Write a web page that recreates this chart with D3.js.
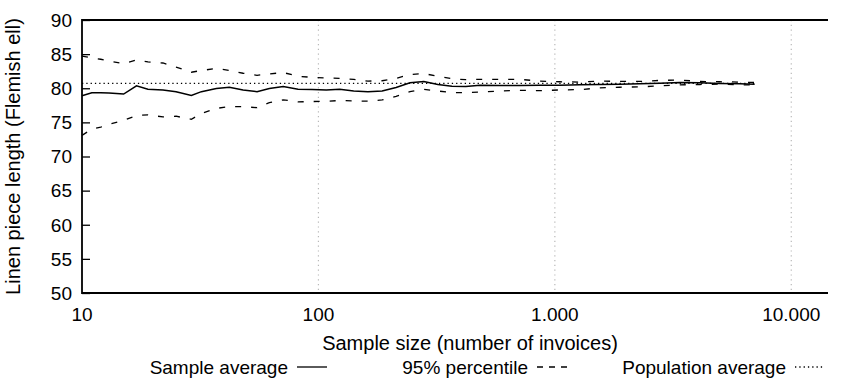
<!DOCTYPE html>
<html>
<head>
<meta charset="utf-8">
<script src="https://cdn.jsdelivr.net/npm/d3@7"></script>
<style>
  body { margin: 0; background: #fff; }
  text { font-family: "Liberation Sans", Arial, Helvetica, sans-serif; fill: #000; }
</style>
</head>
<body>
<div id="chart"></div>
<script>
// sample sizes (number of invoices) at which the averages were computed
var sampleSizes = [10, 11, 12, 13, 15, 17, 19, 22, 25, 29, 32, 37, 42, 48, 55, 62, 71, 82, 94, 108,
    123, 141, 162, 186, 213, 244, 279, 320, 367, 420, 482, 585, 711, 864, 1050, 1276, 1550, 1884,
    2288, 2780, 3378, 4103, 4985, 6056, 7000];
var sampleAverage = [78.9, 79.35, 79.35, 79.3, 79.15, 80.35, 79.85, 79.75, 79.5, 78.95, 79.5, 79.95,
    80.15, 79.75, 79.5, 79.95, 80.25, 79.85, 79.8, 79.75, 79.85, 79.6, 79.5, 79.6, 80.1, 80.8, 81.0,
    80.55, 80.3, 80.25, 80.45, 80.4, 80.4, 80.45, 80.45, 80.5, 80.55, 80.6, 80.65, 80.75, 80.85,
    80.8, 80.7, 80.65, 80.6];
var upper95 = [84.7, 84.45, 84.25, 84.0, 83.6, 84.15, 83.85, 83.7, 83.1, 82.35, 82.6, 82.9, 82.6,
    82.2, 81.9, 82.1, 82.3, 81.75, 81.6, 81.5, 81.45, 81.3, 81.05, 81.1, 81.45, 82.0, 82.15, 81.75,
    81.4, 81.25, 81.3, 81.3, 81.3, 81.05, 80.95, 80.9, 81.05, 81.0, 81.0, 81.15, 81.2, 81.0, 80.95,
    80.9, 80.85];
var lower95 = [73.1, 74.0, 74.3, 74.7, 75.3, 76.0, 76.1, 75.8, 75.9, 75.45, 76.3, 77.05, 77.3, 77.3,
    77.15, 77.9, 78.3, 78.0, 78.05, 78.1, 78.2, 78.15, 78.1, 78.3, 78.8, 79.5, 79.85, 79.6, 79.35,
    79.35, 79.45, 79.6, 79.7, 79.65, 79.75, 79.8, 80.05, 80.15, 80.2, 80.35, 80.5, 80.55, 80.6,
    80.5, 80.5];
var populationAverage = 80.7;

var xTicks = [10, 100, 1000, 10000];
var xTickLabels = ["10", "100", "1.000", "10.000"];
var yTicks = [50, 55, 60, 65, 70, 75, 80, 85, 90];
var legendLabels = ["Sample average", "95% percentile", "Population average"];

var W = 856, H = 385;
var margin = {top: 20, right: 28, bottom: 92, left: 82},
    width = W - margin.left - margin.right,
    height = H - margin.top - margin.bottom;

var svg = d3.select('#chart').append('svg')
    .attr('width', W)
    .attr('height', H);

var x = d3.scaleLog().domain([10, 14300]).range([0, width]),
    y = d3.scaleLinear().domain([50, 90]).range([height, 0]);

var g = svg.append('g')
    .attr('transform', 'translate(' + margin.left + ',' + margin.top + ')');

// vertical dotted grid at the decades
g.selectAll('.grid')
    .data(xTicks.slice(1))
    .enter().append('line')
    .attr('class', 'grid')
    .attr('x1', function(d) { return x(d); })
    .attr('x2', function(d) { return x(d); })
    .attr('y1', 0).attr('y2', height)
    .attr('stroke', '#b8b8b8')
    .attr('stroke-width', 1.2)
    .attr('stroke-dasharray', '1.2,3.6');

var pts = sampleSizes.map(function(n, i) {
    return {n: n, avg: sampleAverage[i], hi: upper95[i], lo: lower95[i]};
});

function lineFor(key) {
    return d3.line()
        .x(function(d) { return x(d.n); })
        .y(function(d) { return y(d[key]); });
}

// population average (dotted)
g.append('line')
    .attr('x1', x(sampleSizes[0])).attr('x2', x(sampleSizes[sampleSizes.length - 1]))
    .attr('y1', y(populationAverage)).attr('y2', y(populationAverage))
    .attr('stroke', '#000')
    .attr('stroke-width', 1.3)
    .attr('stroke-dasharray', '1.3,3');

['hi', 'lo'].forEach(function(k) {
    g.append('path')
        .datum(pts)
        .attr('d', lineFor(k))
        .attr('fill', 'none')
        .attr('stroke', '#000')
        .attr('stroke-width', 1.3)
        .attr('stroke-dasharray', '6,10');
});

g.append('path')
    .datum(pts)
    .attr('d', lineFor('avg'))
    .attr('fill', 'none')
    .attr('stroke', '#000')
    .attr('stroke-width', 1.5);

// axes
var yAxis = d3.axisRight(y).tickValues(yTicks).tickSize(8).tickFormat('');
g.append('g').call(yAxis)
    .call(function(a) { a.select('.domain').remove(); })
    .selectAll('line').attr('stroke', '#000').attr('stroke-width', 1.3);

g.selectAll('.ylab')
    .data(yTicks)
    .enter().append('text')
    .attr('class', 'ylab')
    .attr('x', -10)
    .attr('y', function(d) { return y(d); })
    .attr('dy', '0.36em')
    .attr('text-anchor', 'end')
    .style('font-size', '19px')
    .text(function(d) { return d; });

g.selectAll('.xlab')
    .data(xTicks)
    .enter().append('text')
    .attr('class', 'xlab')
    .attr('x', function(d) { return x(d); })
    .attr('y', height + 28)
    .attr('text-anchor', 'middle')
    .style('font-size', '19px')
    .text(function(d, i) { return xTickLabels[i]; });

// frame: left, bottom, top
g.append('path')
    .attr('d', 'M' + width + ',0H0V' + height + 'H' + width)
    .attr('fill', 'none')
    .attr('stroke', '#000')
    .attr('stroke-width', 1.8);

g.append('text')
    .attr('x', 470 - margin.left)
    .attr('y', height + 57)
    .attr('text-anchor', 'middle')
    .style('font-size', '20px')
    .text('Sample size (number of invoices)');

g.append('text')
    .attr('transform', 'translate(' + (-62) + ',' + (height / 2) + ') rotate(-90)')
    .attr('text-anchor', 'middle')
    .style('font-size', '20px')
    .text('Linen piece length (Flemish ell)');

// legend: label then line sample
var legendEnds = [288, 528, 786];
var legendDash = [null, '6,6', '1.3,3'];
var legend = svg.append('g').attr('class', 'legend');
legendLabels.forEach(function(lbl, i) {
    var lg = legend.append('g').attr('transform', 'translate(' + legendEnds[i] + ',367)');
    lg.append('text')
        .attr('x', 0).attr('y', 7)
        .attr('text-anchor', 'end')
        .style('font-size', '19px')
        .text(lbl);
    lg.append('line')
        .attr('x1', 9).attr('x2', 39)
        .attr('y1', 0).attr('y2', 0)
        .attr('stroke', '#000')
        .attr('stroke-width', 1.3)
        .attr('stroke-dasharray', legendDash[i]);
});
</script>
</body>
</html>
